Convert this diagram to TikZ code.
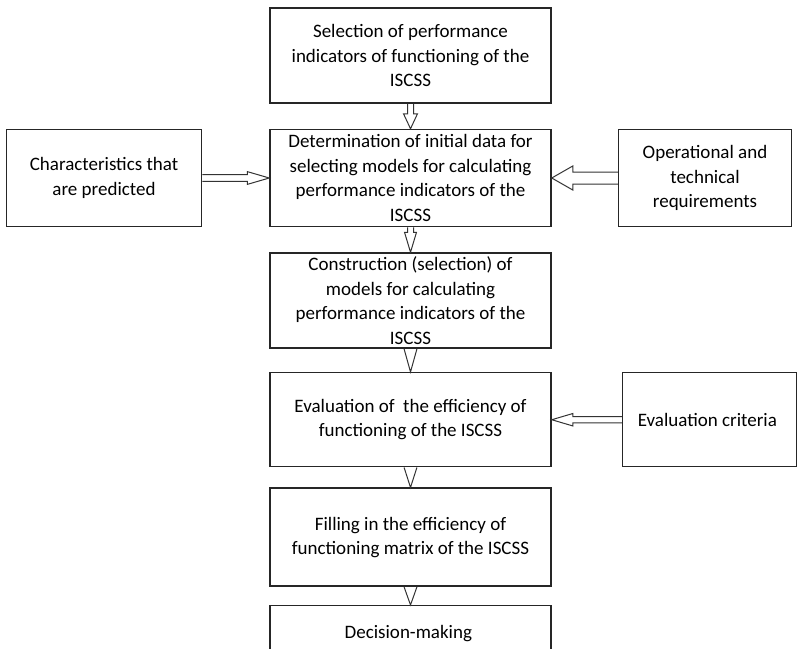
\documentclass[tikz,border=0pt]{standalone}
\usepackage{fontspec}
\setmainfont{Carlito}
\usetikzlibrary{positioning, calc}

\begin{document}
\begin{tikzpicture}[
    font=\fontsize{9.5}{12.2}\selectfont,
    % Estilo base para bloques
    block/.style={
        draw=black!85,
        line width=0.75pt,
        minimum width=140.5pt,
        inner sep=2pt,
        align=center
    },
    % Estilo para las lineas de las flechas
    arrowline/.style={
        draw=black!80,
        line width=0.5pt
    },
    % Flecha hueca: semiancho del cuerpo, semiancho de la punta, largo de la punta
    hollow/.style n args={3}{
        to path={
            let \p1=($(\tikztotarget)!#3!(\tikztostart)$) in
            ($(\tikztostart)!#1!90:(\tikztotarget)$) -- ($(\p1)!#1!90:(\tikztotarget)$)
            -- ($(\p1)!#2!90:(\tikztotarget)$) -- (\tikztotarget)
            -- ($(\p1)!#2!-90:(\tikztotarget)$) -- ($(\p1)!#1!-90:(\tikztotarget)$)
            -- ($(\tikztostart)!#1!-90:(\tikztotarget)$)
        }
    },
    % Solo la punta (triangulo abierto)
    headonly/.style={
        to path={
            ($(\tikztostart)!#1!90:(\tikztotarget)$) -- (\tikztotarget)
            -- ($(\tikztostart)!#1!-90:(\tikztotarget)$)
        }
    }
]

    \useasboundingbox (0,0) rectangle (401pt,-324pt);
    \clip (0,0) rectangle (401pt,-324pt);

    % --- 1. Columna central ---

    \node[block, minimum height=47.5pt] (selperf) at (205.25pt,-27.75pt) {
        Selection of performance\\
        indicators of functioning of the\\
        ISCSS
    };

    \node[block, minimum height=48.5pt, below=12.5pt of selperf] (initdata) {
        Determination of initial data for\\
        selecting models for calculating\\
        performance indicators of the\\
        ISCSS
    };

    \node[block, minimum height=47.5pt, below=12.5pt of initdata] (constr) {
        Construction (selection) of\\
        models for calculating\\
        performance indicators of the\\
        ISCSS
    };

    \node[block, minimum height=47pt, below=11.5pt of constr] (evaleff) {
        Evaluation of\ \ the efficiency of\\
        functioning of the ISCSS
    };

    \node[block, minimum height=49pt, below=10pt of evaleff] (filling) {
        Filling in the efficiency of\\
        functioning matrix of the ISCSS
    };

    \node[block, minimum height=28pt, below=9pt of filling] (decision) {
        Decision-making
    };

    % --- 2. Bloques laterales ---

    \node[block, minimum width=97.5pt, minimum height=48.5pt, left=33.5pt of initdata] (predicted) {
        Characteristics that\\
        are predicted
    };

    \node[block, minimum width=86.5pt, minimum height=48.5pt, right=33pt of initdata] (requirements) {
        Operational and\\
        technical\\
        requirements
    };

    \node[block, minimum width=87pt, minimum height=47pt, right=35pt of evaleff] (criteria) {
        Evaluation criteria
    };

    % --- 3. Flechas ---

    \draw[arrowline] (selperf.south) to[hollow={1.5pt}{3.5pt}{7.5pt}] (initdata.north);
    \draw[arrowline] (initdata.south) to[hollow={1.5pt}{3pt}{10pt}] (constr.north);
    \draw[arrowline] (constr.south) to[headonly=3.2pt] (evaleff.north);
    \draw[arrowline] (evaleff.south) to[headonly=3.2pt] (filling.north);
    \draw[arrowline] (filling.south) to[headonly=3.2pt] (decision.north);

    \draw[arrowline] (predicted.east) to[hollow={1.7pt}{3.2pt}{11pt}] (predicted.east -| initdata.west);
    \draw[arrowline] (requirements.west) to[hollow={3pt}{6pt}{10.5pt}] (requirements.west -| initdata.east);
    \draw[arrowline] (criteria.west) to[hollow={1.6pt}{3.1pt}{10.5pt}] (criteria.west -| evaleff.east);

\end{tikzpicture}
\end{document}
